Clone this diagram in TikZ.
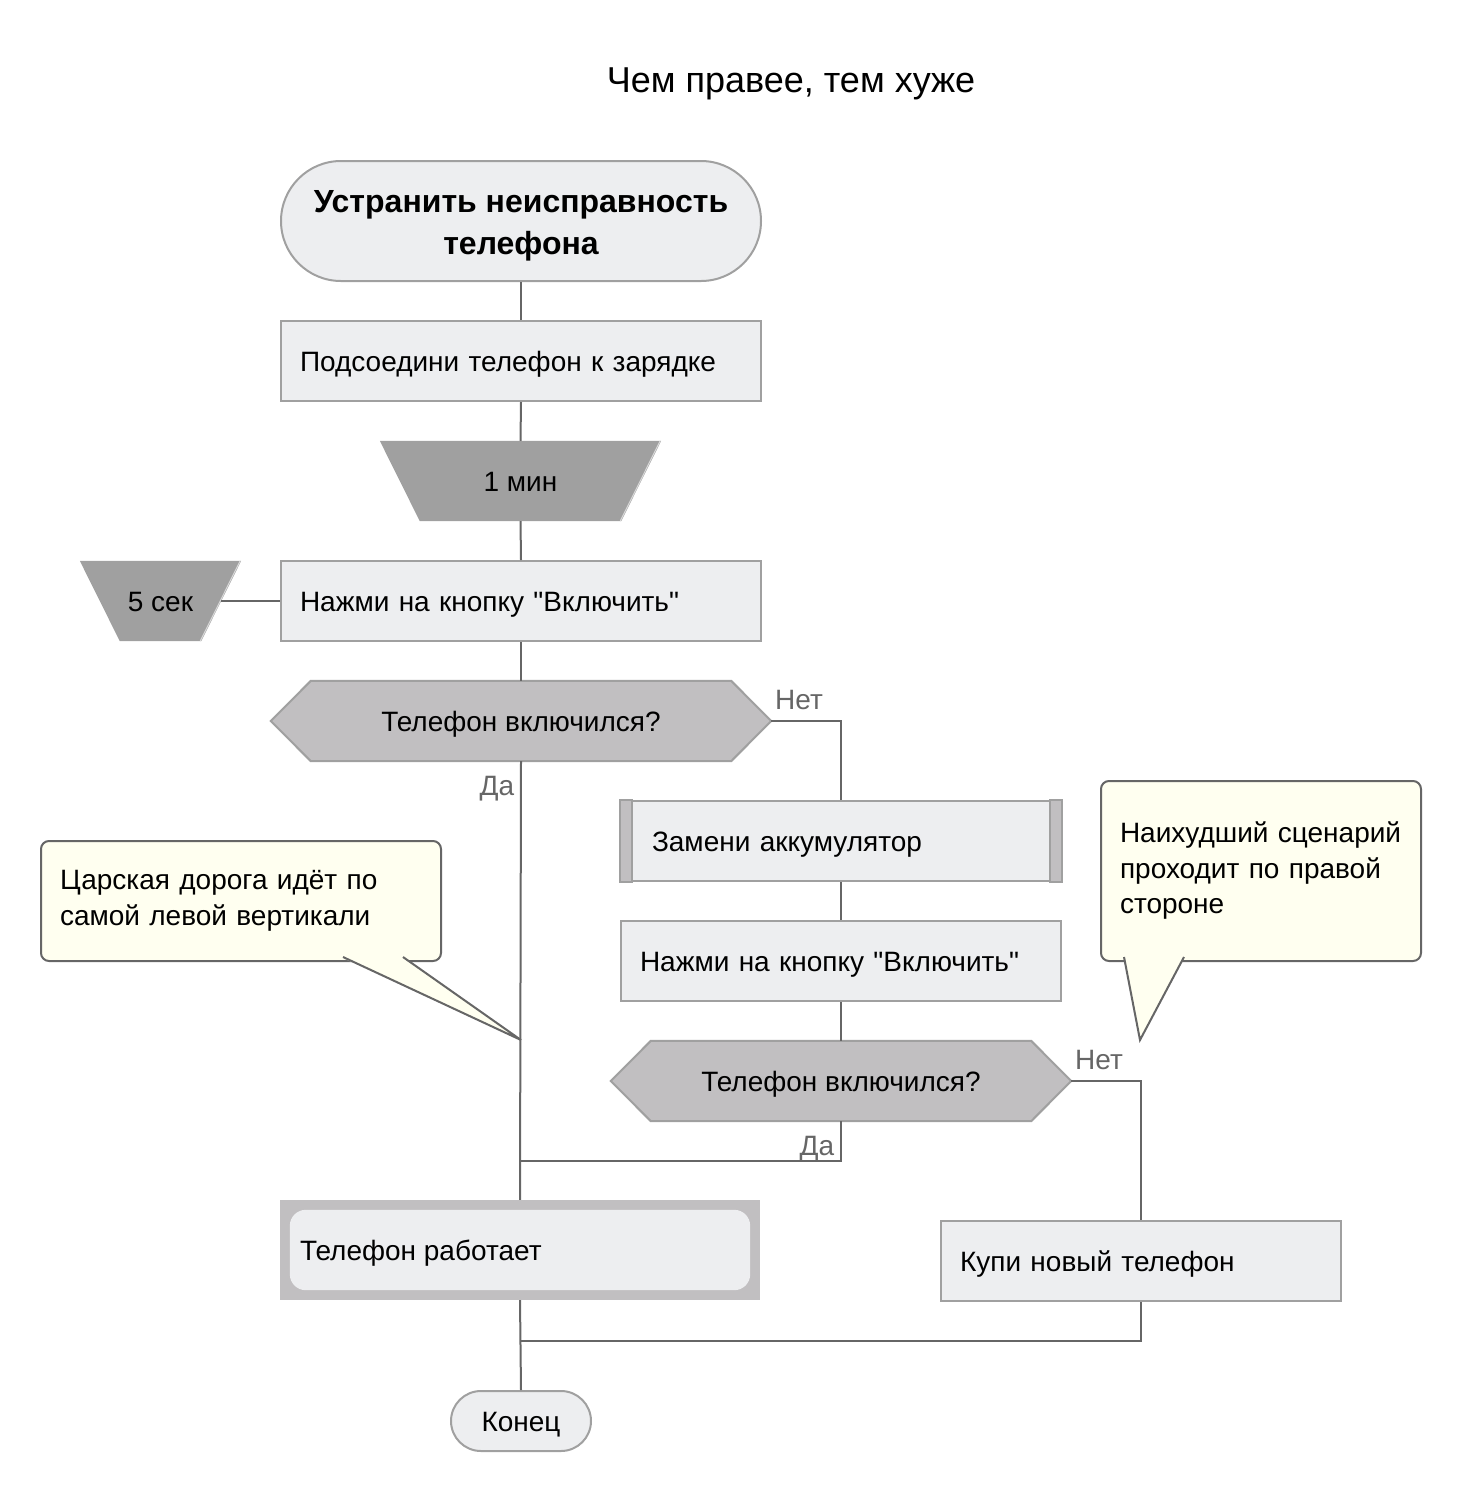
\documentclass[tikz,border=0pt]{standalone}
\usepackage{fontspec}
\setmainfont{Liberation Sans}[Ligatures=TeXOff]
\usetikzlibrary{calc}
\definecolor{boxfill}{HTML}{EDEEF0}
\definecolor{boxline}{HTML}{A0A0A0}
\definecolor{trapfill}{HTML}{A0A0A0}
\definecolor{hexfill}{HTML}{C1BFC1}
\definecolor{linegray}{HTML}{666666}
\definecolor{notefill}{HTML}{FFFFF0}
\definecolor{labelgray}{HTML}{666666}
\begin{document}
\begin{tikzpicture}[x=1pt,y=-1pt,
  every node/.style={font=\fontsize{28}{33}\selectfont, inner sep=0pt},
  oneline/.style={text height=26pt, text depth=6pt},
  conn/.style={draw=linegray, line width=2pt},
  procbox/.style={oneline, draw=boxline, fill=boxfill, line width=2pt, minimum height=80pt, align=left, inner xsep=19pt},
  blank/.style={draw=none},
  shapeline/.style={draw=boxline, line width=2pt},
  lbl/.style={oneline, text=labelgray},
  notebox/.style={draw=linegray, fill=notefill, line width=2pt, rounded corners=8pt, align=left, inner xsep=19pt,
     font=\fontsize{28}{35.5}\selectfont}
]
\useasboundingbox (0,0) rectangle (1460,1500);

% title
\node (title) at (791,84) {\fontsize{36}{42}\selectfont Чем правее, тем хуже};

% start
\node (start) [draw=boxline, fill=boxfill, line width=2pt, rounded corners=60pt, minimum width=480pt, minimum height=120pt] at (521,221) {};
\node (starttext) [align=center, font=\fontsize{32}{42}\selectfont\bfseries] at ($(start)+(0,5)$) {Устранить неисправность\\телефона};

\node (b1) [procbox, text width=442pt] at (521,361) {Подсоедини телефон к зарядке};

% trapezoid 1 min
\node (t1) [blank, minimum width=281pt, minimum height=80pt] at (520.5,481) {};
\fill[trapfill] (t1.north west) -- (t1.north east) -- ($(t1.south east)+(-40,0)$) -- ($(t1.south west)+(40,0)$) -- cycle;
\draw[white!85!black, line width=1pt] ($(t1.north east)+(-1,0)$) -- ($(t1.south east)+(-41,0)$);
\node[oneline] at (t1) {1 мин};

\node (b2) [procbox, text width=442pt] at (521,601) {Нажми на кнопку "Включить"};

% trapezoid 5 sec
\node (t2) [blank, minimum width=161pt, minimum height=80pt] at (160.5,601) {};
\fill[trapfill] (t2.north west) -- (t2.north east) -- ($(t2.south east)+(-40,0)$) -- ($(t2.south west)+(40,0)$) -- cycle;
\draw[white!85!black, line width=1pt] ($(t2.north east)+(-1,0)$) -- ($(t2.south east)+(-41,0)$);
\node[oneline] at (t2) {5 сек};
\coordinate (t2e) at ($(t2.east)+(-20,0)$);

% decision 1
\node (d1) [blank, minimum width=500pt, minimum height=80pt] at (521,721) {};
\filldraw[fill=hexfill, shapeline] (d1.west) -- ($(d1.north west)+(40,0)$) -- ($(d1.north east)+(-40,0)$) -- (d1.east)
   -- ($(d1.south east)+(-40,0)$) -- ($(d1.south west)+(40,0)$) -- cycle;
\node[oneline] at (d1) {Телефон включился?};

% replace battery (predefined process)
\node (b3) [procbox, text width=378pt, inner xsep=31pt] at (841,841) {Замени аккумулятор};
\filldraw[fill=hexfill, shapeline] (b3.north west) rectangle ($(b3.south west)+(12,0)$);
\filldraw[fill=hexfill, shapeline] (b3.north east) rectangle ($(b3.south east)+(-12,0)$);

\node (b4) [procbox, text width=402pt] at (841,961) {Нажми на кнопку "Включить"};

% decision 2
\node (d2) [blank, minimum width=460pt, minimum height=80pt] at (841,1081) {};
\filldraw[fill=hexfill, shapeline] (d2.west) -- ($(d2.north west)+(40,0)$) -- ($(d2.north east)+(-40,0)$) -- (d2.east)
   -- ($(d2.south east)+(-40,0)$) -- ($(d2.south west)+(40,0)$) -- cycle;
\node[oneline] at (d2) {Телефон включился?};

% phone works
\node (b5) [fill=hexfill, minimum width=480pt, minimum height=100pt] at (520,1250) {};
\fill[boxfill, rounded corners=16pt] ($(b5.north west)+(10,10)$) rectangle ($(b5.south east)+(-10,-10)$);
\node[oneline, anchor=west] at ($(b5.west)+(20,0)$) {Телефон работает};

\node (b6) [procbox, text width=362pt] at (1141,1261) {Купи новый телефон};

% end
\node (end) [oneline, draw=boxline, fill=boxfill, line width=2pt, rounded corners=30pt, minimum width=140pt, minimum height=60pt] at (521,1421) {Конец};

% junctions
\coordinate (j1) at (521,1161);
\coordinate (j2) at (521,1341);

% connectors
\draw[conn] (start.south) -- (b1.north);
\draw[conn] (b1.south) -- (t1.north);
\draw[conn] (t1.south) -- (b2.north);
\draw[conn] (t2e) -- (b2.west);
\draw[conn] (b2.south) -- (d1.north);
\draw[conn] (d1.east) -| (b3.north);
\draw[conn] (d1.south) -- (b5.north);
\draw[conn] (b3.south) -- (b4.north);
\draw[conn] (b4.south) -- (d2.north);
\draw[conn] (d2.east) -| (b6.north);
\draw[conn] (d2.south) |- (j1);
\draw[conn] (b5.south) -- (end.north);
\draw[conn] (b6.south) |- (j2);

% labels
\node[lbl] (l1) at (799,699) {Нет};
\node[lbl] (l2) at (497,785) {Да};
\node[lbl] (l3) at (1099,1059) {Нет};
\node[lbl] (l4) at (817,1145) {Да};

% notes
\node (n1) [notebox, minimum width=400pt, minimum height=120pt, text width=362pt] at (241,901) {Царская дорога идёт по\\самой левой вертикали};
\coordinate (n1tip) at (521,1040);
\fill[notefill] (343,958) -- (n1tip) -- (403,958) -- cycle;
\draw[linegray, line width=2pt] (343,957) -- (n1tip) -- (403,957);

\node (n2) [notebox, minimum width=320pt, minimum height=180pt, text width=282pt] at (1261,871) {Наихудший сценарий\\проходит по правой\\стороне};
\coordinate (n2tip) at (1140,1040);
\fill[notefill] (1124,958) -- (n2tip) -- (1184,958) -- cycle;
\draw[linegray, line width=2pt] (1124,957) -- (n2tip) -- (1184,957);
\end{tikzpicture}
\end{document}
